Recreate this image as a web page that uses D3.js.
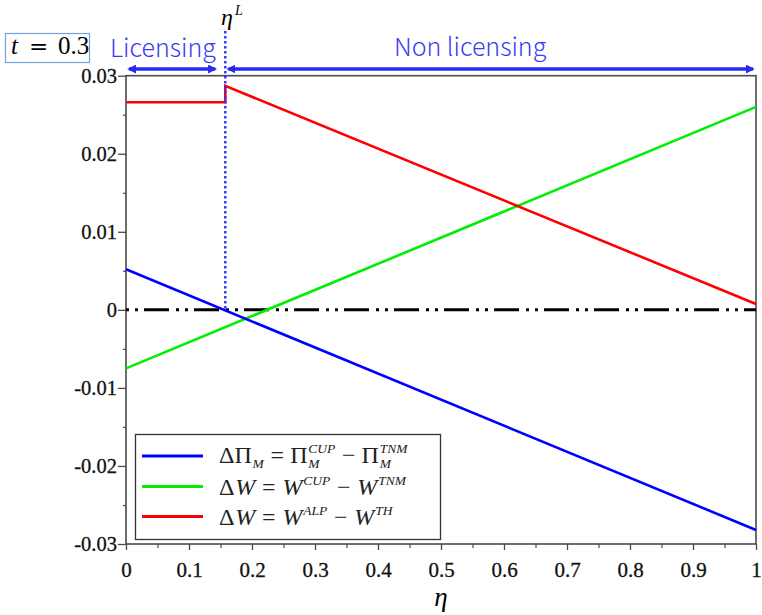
<!DOCTYPE html>
<html>
<head>
<meta charset="utf-8">
<script src="https://cdn.jsdelivr.net/npm/d3@7/dist/d3.min.js"></script>
<style>
  html, body { margin: 0; padding: 0; background: #fff; }
  svg { display: block; }
</style>
</head>
<body>
<svg id="chart" width="762" height="615"></svg>
<script>
// ---------------- DATA ----------------
const etaL = 0.1576;                       // licensing threshold η^L
const tValue = "0.3";
const blueEta = [0, 1];
const blueVals = [0.0052, -0.0282];        // ΔΠ_M
const greenEta = [0, 1];
const greenVals = [-0.0075, 0.0260];       // ΔW (CUP - TNM)
const redEta = [0, etaL, etaL, 1];
const redVals = [0.0266, 0.0266, 0.0287, 0.00075]; // ΔW (ALP - TH)
const xTicks = [0, 0.1, 0.2, 0.3, 0.4, 0.5, 0.6, 0.7, 0.8, 0.9, 1];
const xTickLabels = ["0", "0.1", "0.2", "0.3", "0.4", "0.5", "0.6", "0.7", "0.8", "0.9", "1"];
const yTicks = [0.03, 0.02, 0.01, 0, -0.01, -0.02, -0.03];
const yTickLabels = ["0.03", "0.02", "0.01", "0", "-0.01", "-0.02", "-0.03"];
const regionLabels = ["Licensing", "Non licensing"];

// ---------------- LAYOUT ----------------
const svg = d3.select("#chart");
const L = 126, R = 756, T = 75.7, B = 544;
const x = d3.scaleLinear().domain([0, 1]).range([L, R]);
const y = d3.scaleLinear().domain([-0.03, 0.03]).range([B, T]);
const serif = '"Liberation Serif", "Times New Roman", monospace';
const axisColor = "#4a4a4a";

// minor ticks
const xMinor = d3.range(0, 10).map(i => xTicks[i] + 0.05);
const yMinor = d3.range(0, 6).map(i => yTicks[i] - 0.005);

// axes
const gx = svg.append("g").attr("transform", `translate(0,${B})`)
  .call(d3.axisBottom(x).tickValues(xTicks).tickSize(6).tickSizeOuter(0).tickPadding(12)
    .tickFormat((d, i) => xTickLabels[i]));
gx.attr("font-family", null).attr("font-size", null);
gx.select(".domain").remove();
gx.selectAll("line").attr("stroke", axisColor).attr("stroke-width", 1.3);
gx.selectAll("text").style("font-family", serif).style("font-size", "21px")
  .attr("fill", "#111").attr("stroke", "#111").attr("stroke-width", 0.3);

const gxm = svg.append("g").attr("transform", `translate(0,${B})`)
  .call(d3.axisBottom(x).tickValues(xMinor).tickSize(4).tickSizeOuter(0).tickFormat(""));
gxm.select(".domain").remove();
gxm.selectAll("line").attr("stroke", axisColor).attr("stroke-width", 1.2);

const gy = svg.append("g").attr("transform", `translate(${L},0)`)
  .call(d3.axisLeft(y).tickValues(yTicks).tickSize(8).tickSizeOuter(0).tickPadding(1)
    .tickFormat((d, i) => yTickLabels[i]));
gy.attr("font-family", null).attr("font-size", null);
gy.select(".domain").remove();
gy.selectAll("line").attr("stroke", axisColor).attr("stroke-width", 1.3);
gy.selectAll("text").style("font-family", serif).style("font-size", "20.5px")
  .attr("fill", "#111").attr("stroke", "#111").attr("stroke-width", 0.3);

const gym = svg.append("g").attr("transform", `translate(${L},0)`)
  .call(d3.axisLeft(y).tickValues(yMinor).tickSize(3).tickSizeOuter(0).tickFormat(""));
gym.select(".domain").remove();
gym.selectAll("line").attr("stroke", axisColor).attr("stroke-width", 1.2);

// frame
svg.append("rect").attr("x", L).attr("y", T).attr("width", R - L).attr("height", B - T)
  .attr("fill", "none").attr("stroke", axisColor).attr("stroke-width", 1.6);

// zero line dash-dot-dot
svg.append("line").attr("x1", x(0)).attr("x2", x(1)).attr("y1", y(0)).attr("y2", y(0))
  .attr("stroke", "#000").attr("stroke-width", 3)
  .attr("stroke-dasharray", "25,7,3,6,3,6").attr("stroke-dashoffset", 32);

// series lines
const line = d3.line().x(d => x(d[0])).y(d => y(d[1]));
function series(etas, vals, color) {
  svg.append("path").datum(etas.map((e, i) => [e, vals[i]]))
    .attr("d", line).attr("fill", "none").attr("stroke", color)
    .attr("stroke-width", 2.6).attr("stroke-linejoin", "miter");
}
series(greenEta, greenVals, "#00ee00");
series(redEta, redVals, "#ff0000");
series(blueEta, blueVals, "#0000ff");

// vertical dotted line at η^L
svg.append("line").attr("x1", x(etaL)).attr("x2", x(etaL)).attr("y1", 31).attr("y2", y(0))
  .attr("stroke", "#2f2fff").attr("stroke-width", 2.4).attr("stroke-dasharray", "2.5,2.5");

// arrows
const annBlue = "#2b2bf0";
const defs = svg.append("defs");
defs.append("marker").attr("id", "ah").attr("viewBox", "0 0 10 10").attr("refX", 8).attr("refY", 5)
  .attr("markerWidth", 9).attr("markerHeight", 9).attr("markerUnits", "userSpaceOnUse")
  .attr("orient", "auto-start-reverse")
  .append("path").attr("d", "M0,0 L10,5 L0,10 Z").attr("fill", annBlue);
function arrow(x1, x2, yy) {
  svg.append("line").attr("x1", x1).attr("x2", x2).attr("y1", yy).attr("y2", yy)
    .attr("stroke", annBlue).attr("stroke-width", 3.6)
    .attr("marker-start", "url(#ah)").attr("marker-end", "url(#ah)");
}
arrow(x(0) + 3, x(etaL) - 10, 69);
arrow(x(etaL) + 3, x(1) - 3, 69);

const sansJP = '"Noto Sans CJK JP", "Noto Sans", sans-serif';
svg.append("text").attr("x", 110).attr("y", 57).style("font-family", sansJP)
  .style("font-size", "25px").style("font-weight", 300).attr("fill", "#3a3af2").text(regionLabels[0]);
svg.append("text").attr("x", 394).attr("y", 56).style("font-family", sansJP)
  .style("font-size", "25px").style("font-weight", 300).attr("fill", "#3a3af2").text(regionLabels[1]);

// t box
svg.append("rect").attr("x", 5.5).attr("y", 33.5).attr("width", 84).attr("height", 29)
  .attr("fill", "#fff").attr("stroke", "#6fa4dc").attr("stroke-width", 1.2);
svg.append("text").attr("x", 11).attr("y", 54).style("font-family", serif).style("font-style", "italic")
  .style("font-size", "25px").attr("fill", "#000").text("t");
svg.append("text").attr("x", 29).attr("y", 54).style("font-family", '"DejaVu Serif", monospace')
  .style("font-size", "23px").attr("fill", "#000").text("=");
svg.append("text").attr("x", 58).attr("y", 54).style("font-family", serif)
  .style("font-size", "25px").attr("fill", "#000").text(tValue);

// η^L label (single text with superscript tspan)
const etaLab = svg.append("text").attr("x", 221).attr("y", 25).style("font-family", serif)
  .style("font-style", "italic").attr("fill", "#000");
etaLab.append("tspan").style("font-size", "24px").text("η");
etaLab.append("tspan").attr("x", 235).attr("y", 15).style("font-size", "14px").text("L");

// x axis label
svg.append("text").attr("x", 441).attr("y", 606).attr("text-anchor", "middle")
  .style("font-family", serif).style("font-style", "italic").style("font-size", "27px").attr("fill", "#000").text("η");

// legend
svg.append("rect").attr("x", 135.5).attr("y", 434.5).attr("width", 305).attr("height", 105)
  .attr("fill", "#fff").attr("stroke", "#333").attr("stroke-width", 1.3);

const MAIN = 24, SMALL = 13.5;
function measure(txt, size, italic) {
  const t = svg.append("text").style("font-family", serif).style("font-size", size + "px")
    .style("font-style", italic ? "italic" : "normal").style("white-space", "pre").text(txt);
  const w = t.node().getComputedTextLength();
  t.remove();
  return w;
}
function mathText(x0, yb, pieces) {
  const txt = svg.append("text").style("font-family", serif).attr("fill", "#222")
    .style("white-space", "pre");
  let cx = x0;
  pieces.forEach(p => {
    const items = Array.isArray(p) ? p : [p];
    let maxW = 0;
    items.forEach(it => {
      const size = it.pos ? SMALL : MAIN;
      const dy = it.pos === "sup" ? -10 : it.pos === "sub" ? 5 : 0;
      txt.append("tspan").attr("x", cx).attr("y", yb + dy)
        .style("font-size", size + "px").style("font-style", it.i ? "italic" : "normal")
        .text(it.t);
      maxW = Math.max(maxW, measure(it.t, size, it.i));
    });
    cx += maxW + 0.8;
  });
}
const legendItems = [
  { color: "#0000ff", y: 456, base: 463, text: [
    {t: "ΔΠ"}, {t: "M", i: 1, pos: "sub"}, {t: " = Π"},
    [{t: "CUP", i: 1, pos: "sup"}, {t: "M", i: 1, pos: "sub"}], {t: " − Π"},
    [{t: "TNM", i: 1, pos: "sup"}, {t: "M", i: 1, pos: "sub"}] ] },
  { color: "#00ee00", y: 486.5, base: 494.5, text: [
    {t: "Δ"}, {t: "W", i: 1}, {t: " = "}, {t: "W", i: 1}, {t: "CUP", i: 1, pos: "sup"},
    {t: " − "}, {t: "W", i: 1}, {t: "TNM", i: 1, pos: "sup"} ] },
  { color: "#ff0000", y: 516.5, base: 524.5, text: [
    {t: "Δ"}, {t: "W", i: 1}, {t: " = "}, {t: "W", i: 1}, {t: "ALP", i: 1, pos: "sup"},
    {t: " − "}, {t: "W", i: 1}, {t: "TH", i: 1, pos: "sup"} ] }
];
legendItems.forEach(d => {
  svg.append("line").attr("x1", 142).attr("x2", 203).attr("y1", d.y).attr("y2", d.y)
    .attr("stroke", d.color).attr("stroke-width", 2.8);
  mathText(219, d.base, d.text);
});
</script>
</body>
</html>
